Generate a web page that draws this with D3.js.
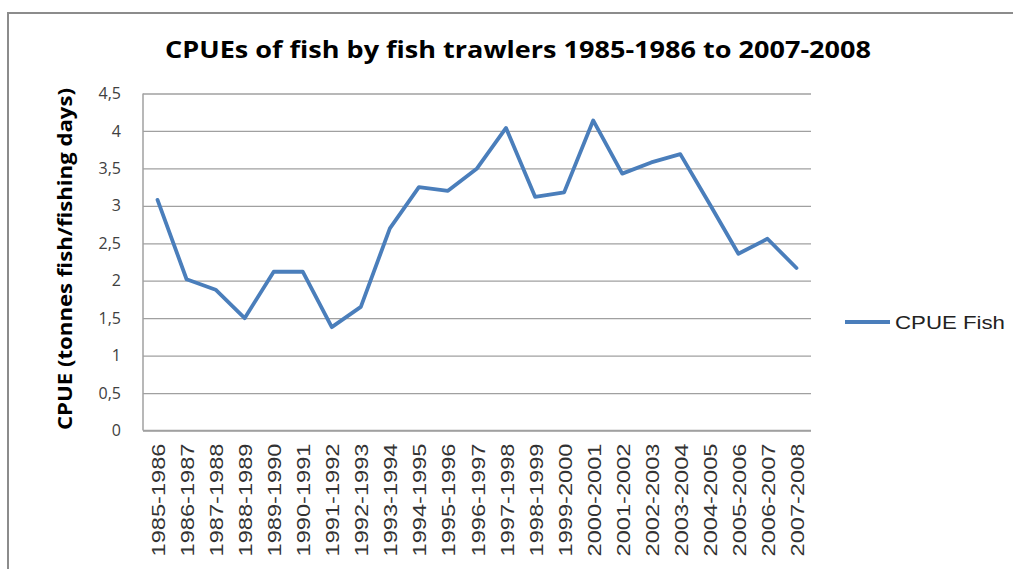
<!DOCTYPE html>
<html>
<head>
<meta charset="utf-8">
<script src="https://cdn.jsdelivr.net/npm/d3@7"></script>
<style>
  body { margin: 0; background: #fff; }
  svg { display: block; }
</style>
</head>
<body>
<div id="chart"></div>
<script>
const seasons = ['1985-1986', '1986-1987', '1987-1988', '1988-1989', '1989-1990', '1990-1991',
    '1991-1992', '1992-1993', '1993-1994', '1994-1995', '1995-1996', '1996-1997', '1997-1998',
    '1998-1999', '1999-2000', '2000-2001', '2001-2002', '2002-2003', '2003-2004', '2004-2005',
    '2005-2006', '2006-2007', '2007-2008'];
const cpueFish = [3.08, 2.02, 1.88, 1.50, 2.12, 2.12, 1.38, 1.65, 2.70, 3.25, 3.20, 3.50, 4.04,
    3.12, 3.18, 4.14, 3.43, 3.58, 3.69, 3.03, 2.36, 2.56, 2.17];
const yTicks = [0, 0.5, 1, 1.5, 2, 2.5, 3, 3.5, 4, 4.5];
const seriesName = 'CPUE Fish';
const chartTitle = 'CPUEs of fish by fish trawlers 1985-1986 to 2007-2008';
const yTitle = 'CPUE (tonnes fish/fishing days)';

const width = 1013, height = 569;
const plot = {left: 143, right: 811, top: 93.5, bottom: 430.5};
const lineColor = '#4a7ebb';

const svg = d3.select('#chart').append('svg')
    .attr('width', width)
    .attr('height', height);

// outer frame of the chart object
svg.append('rect')
    .attr('x', 8).attr('y', 13)
    .attr('width', width + 20).attr('height', height + 20)
    .attr('fill', 'none')
    .attr('stroke', '#8c8c8c')
    .attr('stroke-width', 2);

const x = d3.scalePoint()
    .domain(seasons)
    .range([plot.left, plot.right])
    .padding(0.5);

const y = d3.scaleLinear()
    .domain([0, 4.5])
    .range([plot.bottom, plot.top]);

// gridlines + y labels
const yAxis = svg.append('g')
    .attr('transform', `translate(${plot.left},0)`)
    .call(d3.axisLeft(y)
        .tickValues(yTicks)
        .tickSize(-(plot.right - plot.left))
        .tickPadding(22)
        .tickFormat(d => String(d).replace('.', ',')));
yAxis.select('.domain').remove();
yAxis.selectAll('.tick line')
    .attr('stroke', '#a0a0a0')
    .attr('stroke-width', 1.3);
yAxis.selectAll('.tick text')
    .attr('font-family', 'Open Sans, sans-serif')
    .attr('font-size', 16)
    .attr('fill', '#404040');

// left edge of plot area
svg.append('line')
    .attr('x1', plot.left).attr('x2', plot.left)
    .attr('y1', plot.top).attr('y2', plot.bottom)
    .attr('stroke', '#a0a0a0')
    .attr('stroke-width', 1.5);

// x axis
const xAxis = svg.append('g')
    .attr('transform', `translate(0,${plot.bottom})`)
    .call(d3.axisBottom(x).tickSize(0).tickPadding(0));
xAxis.select('.domain')
    .attr('stroke', '#a0a0a0')
    .attr('stroke-width', 1.5)
    .attr('d', `M${plot.left},0H${plot.right}`);
xAxis.selectAll('.tick text')
    .attr('font-family', 'Liberation Sans, Arial, sans-serif')
    .attr('font-size', 19)
    .attr('fill', '#333')
    .attr('text-anchor', 'end')
    .attr('dy', null)
    .attr('transform', 'translate(7,13) rotate(-90)')
    .attr('textLength', 113)
    .attr('lengthAdjust', 'spacingAndGlyphs');

// series line
const line = d3.line()
    .x((d, i) => x(seasons[i]))
    .y(d => y(d));

svg.append('path')
    .datum(cpueFish)
    .attr('d', line)
    .attr('fill', 'none')
    .attr('stroke', lineColor)
    .attr('stroke-width', 3.8)
    .attr('stroke-linejoin', 'round')
    .attr('stroke-linecap', 'round');

// titles
svg.append('text')
    .attr('x', 518).attr('y', 58)
    .attr('text-anchor', 'middle')
    .attr('font-family', 'Open Sans, sans-serif')
    .attr('font-weight', 'bold')
    .attr('font-size', 24)
    .attr('textLength', 706)
    .attr('lengthAdjust', 'spacingAndGlyphs')
    .attr('fill', '#000')
    .text(chartTitle);

svg.append('text')
    .attr('transform', `translate(72,${(plot.top + plot.bottom) / 2 - 3}) rotate(-90)`)
    .attr('text-anchor', 'middle')
    .attr('font-family', 'Open Sans, sans-serif')
    .attr('font-weight', 'bold')
    .attr('font-size', 20)
    .attr('textLength', 342)
    .attr('lengthAdjust', 'spacingAndGlyphs')
    .attr('fill', '#000')
    .text(yTitle);

// legend
const legend = svg.append('g')
    .attr('transform', 'translate(845,322)');
legend.append('line')
    .attr('x1', 0).attr('x2', 45)
    .attr('stroke', lineColor)
    .attr('stroke-width', 3.8);
legend.append('text')
    .attr('x', 50).attr('y', 7)
    .attr('font-family', 'Liberation Sans, Arial, sans-serif')
    .attr('font-size', 19)
    .attr('textLength', 110)
    .attr('lengthAdjust', 'spacingAndGlyphs')
    .attr('fill', '#222')
    .text(seriesName);
</script>
</body>
</html>
